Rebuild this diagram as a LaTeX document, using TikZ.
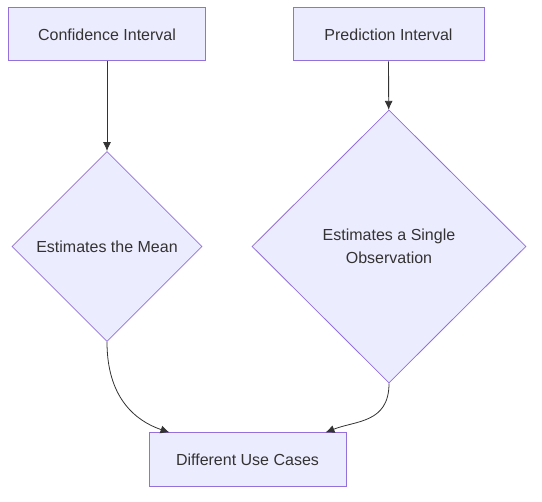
\documentclass[tikz,border=0pt]{standalone}
\usepackage{fontspec}
\setmainfont{Liberation Sans}
\usetikzlibrary{shapes.geometric}
\usetikzlibrary{arrows.meta}

\definecolor{boxfill}{HTML}{ECECFF}
\definecolor{boxline}{HTML}{9370DB}
\definecolor{ink}{HTML}{333333}

\tikzset{
    box/.style={draw=boxline, fill=boxfill, line width=1pt, text=ink,
        minimum width=197pt, minimum height=53pt, inner sep=0pt},
    decision/.style={diamond, aspect=1, draw=boxline, fill=boxfill, line width=0.8pt,
        text=ink, align=center, inner sep=0pt},
    link/.style={draw=ink, line width=0.8pt, -{Latex[length=9pt, width=8pt]}}
}

\begin{document}
\begin{tikzpicture}[x=1pt, y=-1pt, font=\fontsize{16pt}{23pt}\selectfont]
            \useasboundingbox (0,0) rectangle (542,502);

            \coordinate (P1) at (107,34.5);
            \coordinate (P2) at (388.5,34.5);
            \coordinate (P3) at (107,246.5);
            \coordinate (P4) at (389,246.5);
            \coordinate (P5) at (247.5,460);

            \node[box] (ci) at (P1) {Confidence Interval};
            \node[box, minimum width=191pt] (pi) at (P2) {Prediction Interval};
            \node[decision, minimum width=190pt, minimum height=190pt] (mean) at (P3) {Estimates the Mean};
            \node[decision, minimum width=274pt, minimum height=273pt] (single) at (P4) {Estimates a Single\\Observation};
            \node[box, minimum height=54pt] (uses) at (P5) {Different Use Cases};

            \coordinate (U1) at ([xshift=21pt]uses.north west);
            \coordinate (U2) at ([xshift=-21pt]uses.north east);

            \draw[link] (ci) -- (mean);
            \draw[link] (pi) -- (single);
            \draw[link] (mean.south) .. controls +(0,55) and +(-35,-12) .. (U1);
            \draw[link] (single.south) .. controls +(0,40) and +(30,-12) .. (U2);
        \end{tikzpicture}
\end{document}
